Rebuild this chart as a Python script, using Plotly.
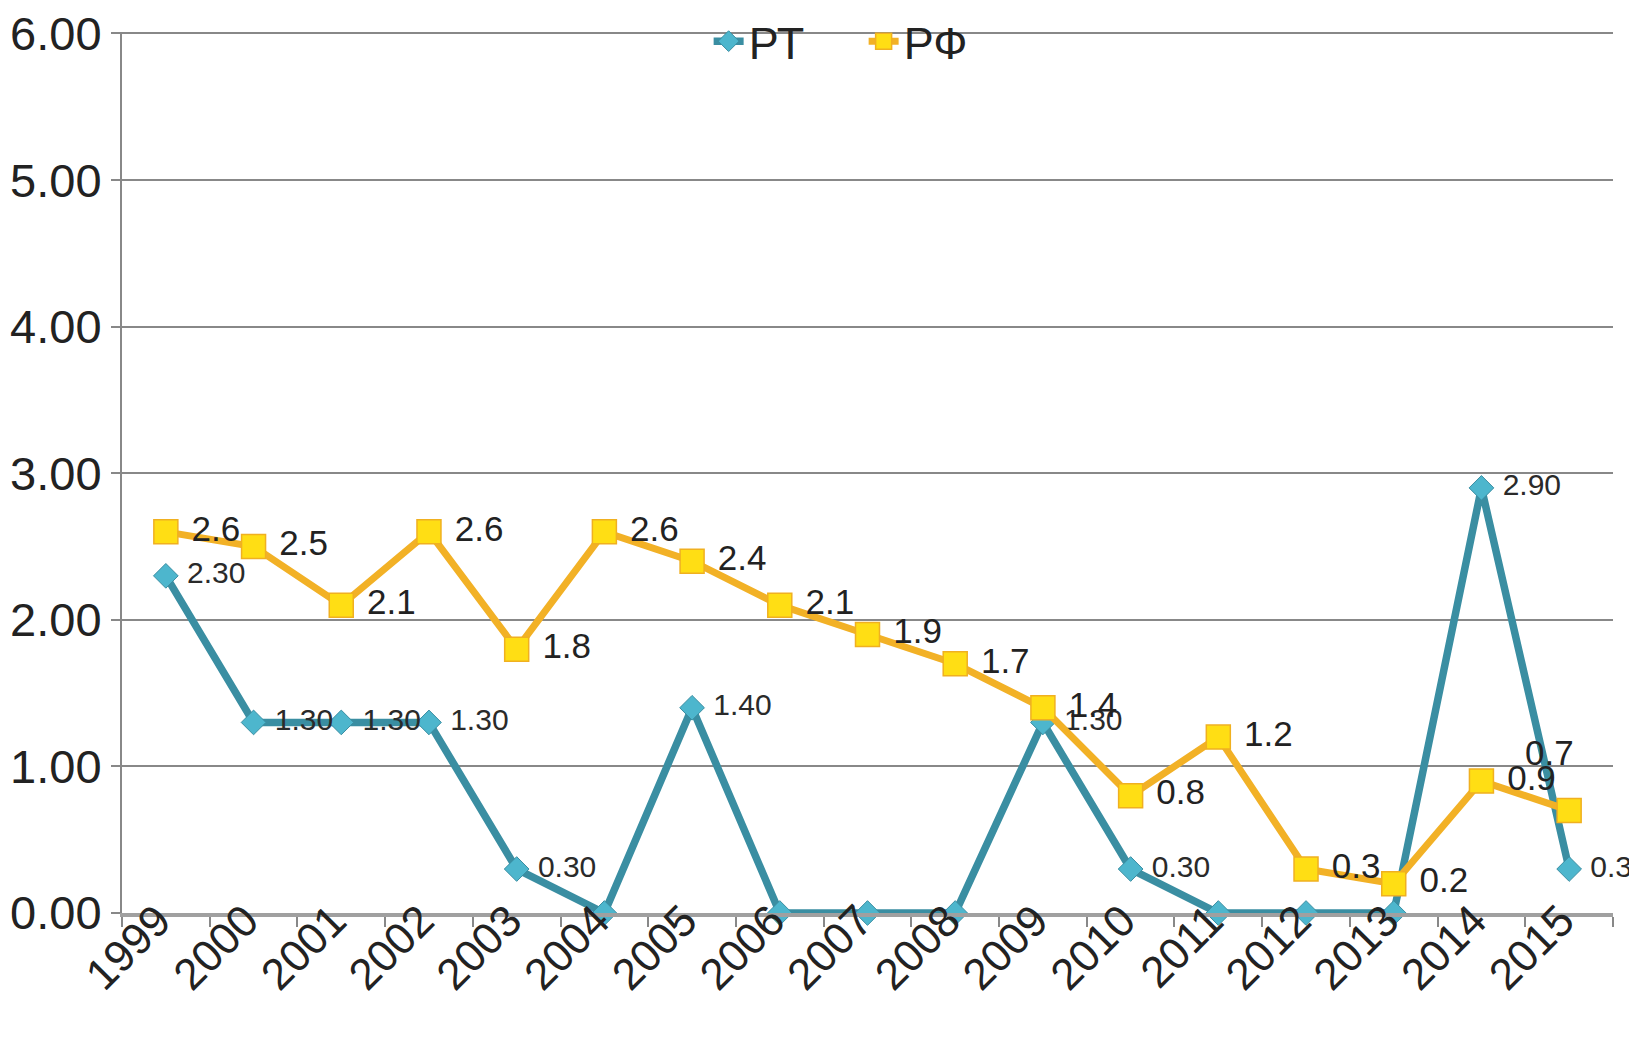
import plotly.graph_objects as go

years = ["1999", "2000", "2001", "2002", "2003", "2004", "2005", "2006", "2007",
         "2008", "2009", "2010", "2011", "2012", "2013", "2014", "2015"]
rt_values = [2.3, 1.3, 1.3, 1.3, 0.3, 0.0, 1.4, 0.0, 0.0, 0.0, 1.3, 0.3, 0.0, 0.0, 0.0, 2.9, 0.3]
rf_values = [2.6, 2.5, 2.1, 2.6, 1.8, 2.6, 2.4, 2.1, 1.9, 1.7, 1.4, 0.8, 1.2, 0.3, 0.2, 0.9, 0.7]
y_ticks = [0, 1, 2, 3, 4, 5, 6]

rt_text = [" %.2f" % v if v > 0 else "" for v in rt_values]
rf_text = [" %.1f" % v for v in rf_values]
# last РФ label is drawn above its point (as in the reference), via annotation
rf_text_trace = rf_text[:-1] + [""]
last_idx = len(years) - 1

FONT = "Liberation Sans, Arial, sans-serif"

fig = go.Figure()
fig.add_trace(go.Scatter(
    x=years, y=rt_values, name="РТ", mode="lines+markers+text",
    line=dict(color="#3A8EA2", width=7.5),
    marker=dict(symbol="diamond", size=19, color="#4DB6CD",
                line=dict(color="#3A8EA2", width=1)),
    text=rt_text, textposition="middle right",
    textfont=dict(family=FONT, size=30, color="#2a2a2a"),
    cliponaxis=False,
))
fig.add_trace(go.Scatter(
    x=years, y=rf_values, name="РФ", mode="lines+markers+text",
    line=dict(color="#F2B126", width=7),
    marker=dict(symbol="square", size=24, color="#FFDE14",
                line=dict(color="#F0B020", width=1.5)),
    text=rf_text_trace, textposition="middle right",
    textfont=dict(family=FONT, size=35, color="#222222"),
    cliponaxis=False,
))

fig.add_annotation(
    x=last_idx, y=rf_values[last_idx], xref="x", yref="y",
    text=rf_text[last_idx].strip(), showarrow=False, xshift=-20, yshift=58,
    font=dict(family=FONT, size=35, color="#222222"),
)

# the page body adds an 8px offset; margins compensate for it
fig.update_layout(
    width=1637, height=1044,
    margin=dict(l=114, r=32, t=24, b=139, autoexpand=False),
    paper_bgcolor="white", plot_bgcolor="white",
    font=dict(family=FONT, color="#222222"),
    showlegend=True,
    legend=dict(orientation="h", xref="container", yref="container",
                x=0.428, xanchor="left", y=0.968, yanchor="middle",
                bgcolor="rgba(0,0,0,0)", font=dict(family=FONT, size=45, color="#222222"),
                entrywidth=110, itemwidth=30),
    xaxis=dict(type="category", range=[-0.5, 16.5], tickson="boundaries",
               ticks="outside", ticklen=10, tickcolor="#888888", tickwidth=2,
               showline=True, linecolor="#A0A0A0", linewidth=4,
               showgrid=False, tickangle=-45, automargin=False,
               ticklabelstandoff=-40, ticklabelshift=-8, ticklabeloverflow="allow",
               tickfont=dict(family=FONT, size=44, color="#222222")),
    yaxis=dict(range=[0, 6.01], tickvals=y_ticks,
               ticktext=["%.2f" % v for v in y_ticks],
               ticks="outside", ticklen=9, tickcolor="#888888", tickwidth=2,
               showline=True, linecolor="#888888", linewidth=2,
               showgrid=True, gridcolor="#888888", gridwidth=2,
               zeroline=False, automargin=False, ticklabeloverflow="allow",
               tickfont=dict(family=FONT, size=47, color="#222222")),
)

fig.write_html("out.html")
